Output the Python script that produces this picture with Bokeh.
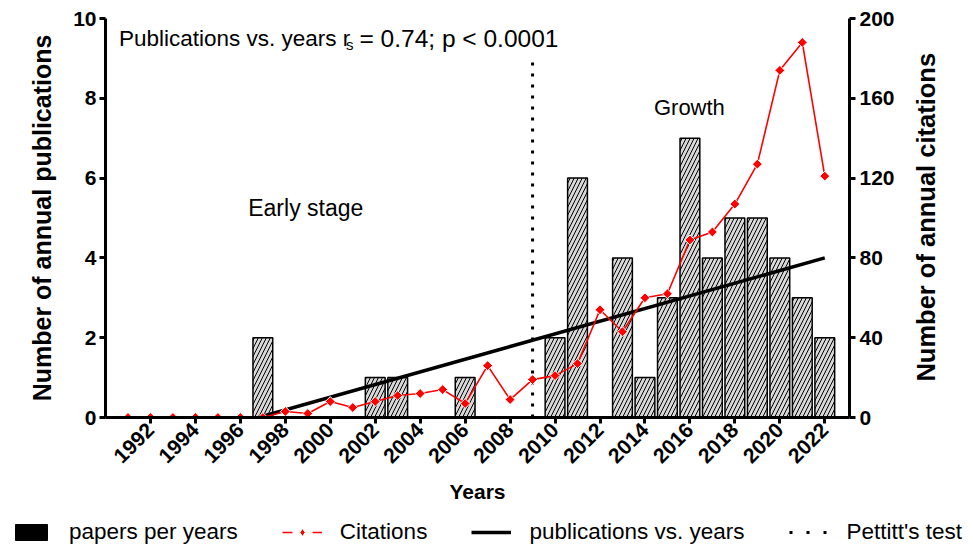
import math
from bokeh.plotting import figure
from bokeh.models import Range1d, LinearAxis, FixedTicker, Legend, LegendItem, Label
from bokeh.layouts import column, row
from bokeh.embed import file_html
from bokeh.resources import INLINE

# ---------------- data ----------------
years = list(range(1991, 2023))
publications = [0, 0, 0, 0, 0, 0, 2, 0, 0, 0, 0, 1, 1, 0, 0, 1, 0, 0, 0,
                2, 6, 0, 4, 1, 3, 7, 4, 5, 5, 4, 3, 2]
citations = [0, 0, 0, 0, 0, 0, 0, 3, 2, 8, 5, 8, 11, 12, 14, 7, 26, 9, 19,
             21, 27, 54, 43, 60, 62, 89, 93, 107, 127, 174, 188, 121]
fit_years = [1996.8, 2022]
fit_values = [0, 4.0]
pettitt_years = [2009, 2009]
pettitt_values = [0, 9.1]
x_tick_years = list(range(1992, 2023, 2))
left_ticks = [0, 2, 4, 6, 8, 10]
right_ticks = [0, 40, 80, 120, 160, 200]
legend_labels = ["papers per years", "Citations", "publications vs. years",
                 "Pettitt's test"]
NAN = [float("nan")]  # legend proxies draw nothing in the plot

FONT = "Liberation Sans"
MAIN_H = 512

p = figure(width=904, height=MAIN_H,
           x_range=Range1d(1990, 2023.1), y_range=Range1d(0, 10),
           output_backend="svg", toolbar_location=None,
           min_border_left=105, min_border_top=18, min_border_right=55,
           min_border_bottom=95)
p.extra_y_ranges = {"cit": Range1d(0, 200)}
p.outline_line_color = None
p.xgrid.visible = False
p.ygrid.visible = False


def style_axis(ax):
    ax.axis_line_width = 3
    ax.axis_line_color = "black"
    ax.major_tick_line_width = 3
    ax.major_tick_line_color = "black"
    ax.major_tick_out = 6
    ax.major_tick_in = 0
    ax.minor_tick_line_color = None
    ax.major_label_text_font = FONT
    ax.major_label_text_font_style = "bold"
    ax.major_label_text_font_size = "21px"
    ax.major_label_text_color = "black"
    ax.axis_label_text_font = FONT
    ax.axis_label_text_font_style = "bold"
    ax.axis_label_text_font_size = "25px"
    ax.axis_label_text_color = "black"


# bars
bars = p.vbar(x=years, top=publications, width=0.88, bottom=0,
              fill_color="#d8d8d8", line_color="black", line_width=1.5,
              hatch_pattern="/", hatch_color="black", hatch_scale=8,
              hatch_weight=1)

# Pettitt's test change point
pett = p.line(pettitt_years, pettitt_values, line_color="black",
              line_width=3, line_dash="3 8")

# regression line
trend = p.line(fit_years, fit_values, line_color="black", line_width=3.5)

# citations
cit_line = p.line(years, citations, y_range_name="cit", line_color="red",
                  line_width=1.6)
cit_pts = p.scatter(years, citations, y_range_name="cit", marker="square",
                    angle=math.pi / 4, size=7, fill_color="red",
                    line_color="white", line_width=1)

# axes
style_axis(p.yaxis[0])
p.yaxis[0].ticker = FixedTicker(ticks=left_ticks)
p.yaxis[0].axis_label = "Number of annual publications"
p.yaxis[0].major_label_standoff = 3
p.yaxis[0].axis_label_standoff = 14

style_axis(p.xaxis[0])
p.xaxis[0].ticker = FixedTicker(ticks=x_tick_years)
p.xaxis[0].major_label_orientation = math.pi / 4
p.xaxis[0].axis_label = "Years"
p.xaxis[0].axis_label_text_font_size = "21px"
p.xaxis[0].major_label_standoff = 3
p.xaxis[0].axis_label_standoff = 8

ax_r = LinearAxis(y_range_name="cit", ticker=FixedTicker(ticks=right_ticks))
style_axis(ax_r)
ax_r.major_label_standoff = 4
p.add_layout(ax_r, "right")

# annotations
ann = dict(text_font=FONT, text_color="black", text_baseline="alphabetic")
p.add_layout(Label(x=1990.6, y=9.49, text="Publications vs. years r",
                   text_font_size="22.5px", **ann))
p.add_layout(Label(x=2000.7, y=9.36, text="s", text_font_size="15px", **ann))
p.add_layout(Label(x=2001.3, y=9.49, text="= 0.74; p < 0.0001",
                   text_font_size="24.5px", **ann))
p.add_layout(Label(x=1996.35, y=5.25, text="Early stage",
                   text_font_size="23px", **ann))
p.add_layout(Label(x=2014.4, y=7.775, text="Growth",
                   text_font_size="22px", **ann))

# ---- right-hand strip carrying the citations axis title ----
p_r = figure(width=60, height=MAIN_H, x_range=Range1d(0, 60),
             y_range=Range1d(MAIN_H, 0), output_backend="svg",
             toolbar_location=None, x_axis_type=None, y_axis_type=None,
             min_border=0)
p_r.outline_line_color = None
p_r.xgrid.visible = False
p_r.ygrid.visible = False
p_r.add_layout(Label(x=21, y=255, text="Number of annual citations",
                     angle=math.pi / 2, text_align="center",
                     text_baseline="middle", text_font=FONT,
                     text_font_style="bold", text_font_size="25.5px",
                     text_color="black"))

# ---- legend strip ----
LEG_W, LEG_H = 964, 33
p_leg = figure(width=LEG_W, height=LEG_H, x_range=Range1d(0, LEG_W),
               y_range=Range1d(LEG_H, 0), output_backend="svg",
               toolbar_location=None, x_axis_type=None, y_axis_type=None,
               min_border=0)
p_leg.outline_line_color = None
p_leg.xgrid.visible = False
p_leg.ygrid.visible = False
lg_bar = p_leg.vbar(x=NAN, top=NAN, width=1, fill_color="black",
                    line_color="black")
lg_cit_line = p_leg.line(x=NAN, y=NAN, line_color="red", line_width=1.6,
                         line_dash="10 20")
lg_cit_pt = p_leg.scatter(x=NAN, y=NAN, marker="diamond", size=10,
                          fill_color="red", line_color="white",
                          line_width=1)
lg_trend = p_leg.line(x=NAN, y=NAN, line_color="black", line_width=3.5)
lg_pett = p_leg.line(x=NAN, y=NAN, line_color="black", line_width=3,
                     line_dash="3 14")

legend = Legend(items=[
    LegendItem(label=legend_labels[0], renderers=[lg_bar]),
    LegendItem(label=legend_labels[1], renderers=[lg_cit_line, lg_cit_pt]),
    LegendItem(label=legend_labels[2], renderers=[lg_trend]),
    LegendItem(label=legend_labels[3], renderers=[lg_pett]),
], orientation="horizontal", location=(11, 0), glyph_width=40,
    glyph_height=20, label_standoff=18, spacing=44, padding=0, margin=0,
    border_line_color=None, background_fill_alpha=0,
    label_text_font=FONT, label_text_font_size="22.5px",
    label_text_color="black")
p_leg.add_layout(legend)

layout = column(row(p, p_r), p_leg)
open("out.html", "w").write(file_html(layout, INLINE))
